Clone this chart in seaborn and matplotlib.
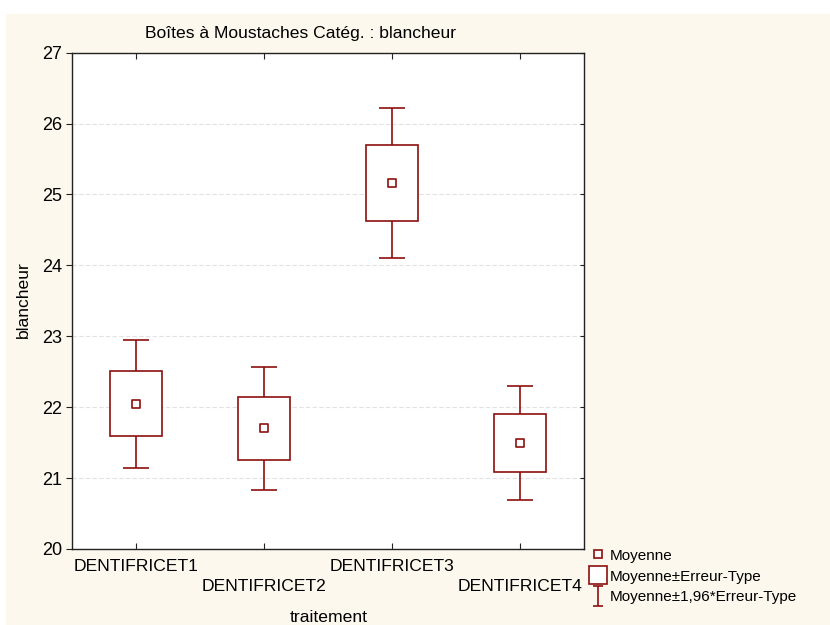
import numpy as np
import pandas as pd
import seaborn as sns
import matplotlib
matplotlib.use("Agg")
import matplotlib.pyplot as plt
from matplotlib.lines import Line2D
from matplotlib.path import Path
from matplotlib.patches import Rectangle

# values
traitements = ["DENTIFRICET1", "DENTIFRICET2", "DENTIFRICET3", "DENTIFRICET4"]
moyennes = [22.05, 21.70, 25.16, 21.50]
erreur_type = [0.46, 0.44, 0.54, 0.41]
y_ticks = [20, 21, 22, 23, 24, 25, 26, 27]

RED = "#8c0f0f"
CREAM = "#fdf8ee"
FS = 12.6

sns.set_theme(style="white")
plt.rcParams["font.family"] = ["Liberation Sans", "DejaVu Sans"]
plt.rcParams["font.size"] = FS

data = pd.DataFrame({"traitement": traitements, "blancheur": moyennes, "se": erreur_type})
data["box_lo"] = data["blancheur"] - data["se"]
data["box_hi"] = data["blancheur"] + data["se"]
data["wh_lo"] = data["blancheur"] - 1.96 * data["se"]
data["wh_hi"] = data["blancheur"] + 1.96 * data["se"]

fig = plt.figure(figsize=(8.3, 6.25), dpi=100, facecolor="white")
fig.patches.append(Rectangle((0.007, 0), 0.993, 0.978, transform=fig.transFigure,
                             facecolor=CREAM, edgecolor="none", zorder=-10))
ax = fig.add_axes([0.0867, 0.1216, 0.617, 0.7941])
ax.set_facecolor("white")

pos = np.arange(len(traitements))
# whiskers (drawn behind boxes)
ax.vlines(pos, data["wh_lo"], data["wh_hi"], color=RED, lw=1.2, zorder=2)
ax.hlines(data["wh_lo"], pos - 0.1, pos + 0.1, color=RED, lw=1.2, zorder=2)
ax.hlines(data["wh_hi"], pos - 0.1, pos + 0.1, color=RED, lw=1.2, zorder=2)
# boxes
ax.bar(pos, data["box_hi"] - data["box_lo"], bottom=data["box_lo"], width=0.41,
       facecolor="white", edgecolor=RED, linewidth=1.2, zorder=3)
# means
sns.scatterplot(data=data, x="traitement", y="blancheur", marker="s", s=36,
                facecolor="white", edgecolor=RED, linewidth=1.2, zorder=4, ax=ax)

ax.set_xlim(-0.5, 3.5)
ax.set_ylim(20, 27)
ax.set_yticks(y_ticks)
ax.set_xticks(pos)
ax.set_xticklabels([])
ax.yaxis.grid(True, linestyle=(0, (4, 2)), color="#e2e2e2", linewidth=0.8)
ax.set_axisbelow(True)
for s in ax.spines.values():
    s.set_color("#222222")
    s.set_linewidth(1.0)
ax.tick_params(axis="x", direction="in", top=True, bottom=True, length=4,
               width=0.8, color="#222222")
ax.tick_params(axis="y", direction="out", left=True, length=4, width=0.8,
               color="#222222", labelsize=13, pad=3, labelcolor="black")
ax2 = ax.twinx()
ax2.set_ylim(20, 27)
ax2.set_yticks(y_ticks)
ax2.set_yticklabels([])
ax2.tick_params(axis="y", direction="in", right=True, length=3, width=0.8, color="#222222")
for s in ax2.spines.values():
    s.set_visible(False)

# staggered category labels
for i, lab in enumerate(traitements):
    off = -0.020 if i % 2 == 0 else -0.061
    ax.text(i, off, lab, transform=ax.get_xaxis_transform(), ha="center",
            va="top", fontsize=FS, color="black")

ax.set_xlabel("")
ax.set_ylabel("")
fig.text(0.396, 0.0128, "traitement", ha="center", va="center", fontsize=FS, color="black")
fig.text(0.028, 0.52, "blancheur", rotation=90, ha="center", va="center", fontsize=FS, color="black")
fig.text(0.362, 0.946, "Boîtes à Moustaches Catég. : blancheur", ha="center",
         va="center", fontsize=FS, color="black")

ibar = Path([(-0.5, 1), (0.5, 1), (0, 1), (0, -1), (-0.5, -1), (0.5, -1)],
            [Path.MOVETO, Path.LINETO, Path.MOVETO, Path.LINETO, Path.MOVETO, Path.LINETO])
handles = [
    Line2D([], [], ls="", marker="s", ms=6, mfc="white", mec=RED, mew=1.2),
    Line2D([], [], ls="", marker="s", ms=13, mfc="white", mec=RED, mew=1.2),
    Line2D([], [], ls="", marker=ibar, ms=14, mfc="none", mec=RED, mew=1.2),
]
labels = ["Moyenne", "Moyenne±Erreur-Type", "Moyenne±1,96*Erreur-Type"]
fig.legend(handles, labels, loc="lower left", bbox_to_anchor=(0.698, 0.016),
           frameon=False, fontsize=10.95, handlelength=1.0, handletextpad=0.3,
           labelspacing=0.45, borderpad=0.2, labelcolor="black")

fig.savefig("out.png", dpi=100, facecolor=fig.get_facecolor())
